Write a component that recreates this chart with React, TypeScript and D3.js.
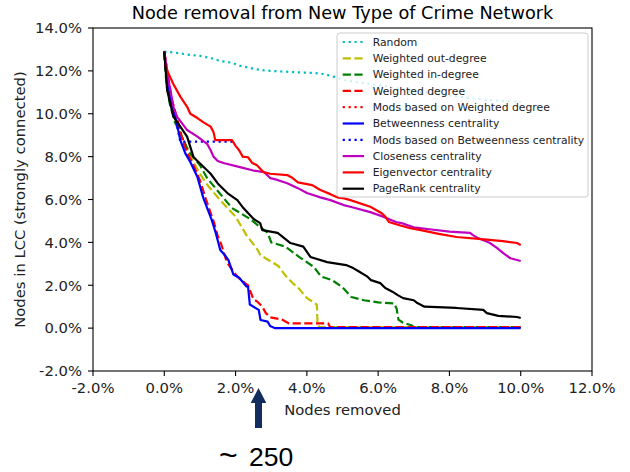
import React from "react";
import * as d3 from "d3";

// ---------- data (x = % nodes removed, y = % nodes in LCC) ----------
const xTicks = [-2, 0, 2, 4, 6, 8, 10, 12];
const yTicks = [-2, 0, 2, 4, 6, 8, 10, 12, 14];

const randomPts: [number, number][] = [[0,12.9],[0.3,12.85],[0.7,12.75],[1.0,12.7],[1.3,12.6],[1.6,12.45],[1.9,12.38],[2.1,12.25],[2.5,12.1],[2.8,12.02],[3.3,11.97],[3.8,11.93],[4.2,11.9],[4.5,11.85],[4.8,11.7],[5.1,11.55],[5.5,11.45],[6.0,11.35],[6.5,11.2],[7.0,11.05],[7.5,10.95],[8.0,10.85],[8.5,10.75],[9.0,10.65],[9.5,10.6],[10.0,10.55]];
const outDegreePts: [number, number][] = [[0,12.9],[0.05,11.8],[0.15,10.8],[0.3,9.8],[0.45,9.1],[0.6,8.5],[0.8,7.8],[1.0,7.2],[1.2,6.7],[1.5,6.1],[1.8,5.55],[2.0,5.2],[2.3,4.35],[2.6,3.7],[2.7,3.4],[3.0,3.1],[3.2,2.9],[3.4,2.45],[3.6,2.1],[3.75,1.9],[4.0,1.4],[4.1,1.3],[4.28,1.1],[4.3,0.2],[4.35,0.05],[10,0.05]];
const inDegreePts: [number, number][] = [[0,12.9],[0.05,11.6],[0.15,10.5],[0.3,9.6],[0.5,8.9],[0.7,8.2],[1.0,7.6],[1.2,7.0],[1.5,6.4],[1.9,5.6],[2.4,5.1],[2.7,4.7],[2.9,4.45],[3.0,4.0],[3.4,3.8],[3.8,3.3],[4.2,2.85],[4.4,2.4],[4.7,2.25],[5.0,1.9],[5.25,1.45],[5.6,1.3],[6.0,1.2],[6.45,1.15],[6.52,0.9],[6.57,0.4],[6.7,0.25],[6.95,0.12],[7.0,0.05],[10,0.05]];
const degreePts: [number, number][] = [[0,12.9],[0.1,11.8],[0.22,10.6],[0.37,9.7],[0.52,8.7],[0.67,8.1],[0.82,7.6],[1.0,6.9],[1.17,6.0],[1.4,4.9],[1.5,4.3],[1.6,3.9],[1.75,3.1],[1.85,2.85],[2.05,2.4],[2.3,2.05],[2.35,2.0],[2.5,1.35],[2.6,1.25],[2.75,1.0],[2.85,0.7],[2.97,0.5],[3.3,0.4],[3.5,0.22],[4.6,0.22],[4.65,0.05],[10,0.05]];
const modsDegreePts: [number, number][] = [[0,12.9],[0.1,11.8],[0.22,10.6],[0.37,9.7],[0.5,8.9],[0.6,8.5]];
const betweennessPts: [number, number][] = [[0,12.9],[0.05,12.0],[0.17,10.8],[0.31,9.85],[0.45,8.77],[0.59,8.15],[0.73,7.75],[0.93,7.05],[1.09,6.1],[1.34,5.0],[1.45,4.4],[1.57,3.64],[1.7,3.4],[1.8,3.17],[1.94,2.5],[2.1,2.35],[2.3,1.95],[2.35,1.93],[2.4,1.1],[2.6,0.9],[2.65,0.85],[2.7,0.38],[2.9,0.3],[2.97,0.1],[3.1,0.0],[10,0.0]];
const modsBetweennessPts: [number, number][] = [[0,12.9],[0.05,12.0],[0.17,10.8],[0.31,9.85],[0.45,8.7],[2.0,8.7]];
const closenessPts: [number, number][] = [[0,12.9],[0.08,11.9],[0.17,11.1],[0.26,10.3],[0.36,9.85],[0.5,9.55],[0.64,9.24],[0.93,8.93],[1.2,8.6],[1.3,8.3],[1.38,8.0],[1.5,7.8],[1.66,7.7],[2.15,7.5],[2.5,7.35],[2.8,7.28],[2.97,7.0],[3.1,6.95],[3.45,6.76],[3.75,6.53],[4.0,6.3],[4.38,6.1],[4.66,5.97],[5.03,5.74],[5.22,5.66],[5.78,5.41],[6.14,5.2],[6.5,4.95],[6.65,4.9],[7.0,4.7],[7.5,4.6],[8.0,4.5],[8.58,4.44],[8.66,4.34],[8.8,4.2],[9.14,3.97],[9.34,3.73],[9.51,3.5],[9.71,3.26],[10,3.13]];
const eigenvectorPts: [number, number][] = [[0,12.9],[0.03,12.2],[0.25,11.4],[0.45,10.8],[0.65,10.3],[0.73,10.0],[0.93,9.8],[1.1,9.6],[1.3,9.4],[1.38,9.15],[1.43,8.77],[1.9,8.77],[2.0,8.5],[2.1,8.3],[2.2,8.0],[2.35,7.97],[2.47,7.7],[2.6,7.6],[2.78,7.28],[2.97,7.2],[3.45,7.14],[3.6,7.0],[3.75,6.8],[4.15,6.67],[4.38,6.44],[4.66,6.25],[4.85,6.1],[5.05,6.05],[5.22,5.97],[5.78,5.66],[6.1,5.36],[6.2,5.2],[6.3,4.95],[6.6,4.8],[6.9,4.66],[7.2,4.57],[7.7,4.4],[8.2,4.25],[8.9,4.15],[9.5,4.06],[9.9,3.97],[10,3.87]];
const pageRankPts: [number, number][] = [[0,12.9],[0.08,11.1],[0.26,9.85],[0.45,9.4],[0.64,8.93],[0.82,7.98],[0.93,7.8],[1.3,7.2],[1.5,6.75],[1.77,6.3],[2.05,5.97],[2.22,5.6],[2.5,5.1],[2.69,4.9],[2.75,4.57],[3.18,4.44],[3.54,3.97],[3.9,3.8],[4.1,3.32],[4.57,3.08],[5.1,2.94],[5.3,2.8],[5.45,2.65],[5.7,2.4],[5.8,2.24],[6.06,2.1],[6.2,1.87],[6.4,1.7],[6.55,1.54],[6.7,1.4],[7.0,1.3],[7.1,1.17],[7.3,1.0],[8.2,0.94],[8.95,0.85],[9.05,0.7],[9.37,0.57],[9.9,0.52],[10,0.47]];

const seriesNames = [
  "Random",
  "Weighted out-degree",
  "Weighted in-degree",
  "Weighted degree",
  "Mods based on Weighted degree",
  "Betweenness centrality",
  "Mods based on Betweenness centrality",
  "Closeness centrality",
  "Eigenvector centrality",
  "PageRank centrality",
];
const seriesData = [randomPts, outDegreePts, inDegreePts, degreePts, modsDegreePts, betweennessPts, modsBetweennessPts, closenessPts, eigenvectorPts, pageRankPts];
const seriesColors = ["#00bfbf", "#bfbf00", "#008000", "#ff0000", "#ff0000", "#0000ff", "#0000ff", "#bf00bf", "#ff0000", "#000000"];
const seriesStyles = ["dotted", "dashed", "dashed", "dashed", "dotted", "solid", "dotted", "solid", "solid", "solid"];

// ---------- layout ----------
const W = 630, H = 472;
const L = 93, R = 592, T = 28, B = 371;
const FONT = "'DejaVu Sans', sans-serif";

const dashFor = (s: string) => (s === "dashed" ? "8.2 3.5" : s === "dotted" ? "2.2 3.7" : undefined);

export default function App() {
  const x = d3.scaleLinear().domain([-2, 12]).range([L, R]);
  const y = d3.scaleLinear().domain([-2, 14]).range([B, T]);
  const line = d3.line<[number, number]>().x(d => x(d[0])).y(d => y(d[1]));
  const fmt = (v: number) => v.toFixed(1) + "%";

  const legX = 337, legY = 33, legW = 251, legH = 164;

  return (
    <svg width={W} height={H} style={{ position: "absolute", left: 0, top: 0, background: "#fff" }} fontFamily={FONT}>
      <rect x={0} y={0} width={W} height={H} fill="#fff" />
      <text x={(L + R) / 2} y={18.5} textAnchor="middle" fontSize={17.7} fill="#000">Node removal from New Type of Crime Network</text>

      <defs>
        <clipPath id="clip"><rect x={L} y={T} width={R - L} height={B - T} /></clipPath>
      </defs>
      <g clipPath="url(#clip)">
        {seriesData.map((d, i) => (
          <path key={i} d={line(d) || ""} fill="none" stroke={seriesColors[i]} strokeWidth={2.2}
            strokeDasharray={dashFor(seriesStyles[i])} strokeLinejoin="round" />
        ))}
      </g>

      {/* frame */}
      <rect x={L} y={T} width={R - L} height={B - T} fill="none" stroke="#000" strokeWidth={1.1} />

      {/* x ticks */}
      {xTicks.map(t => (
        <g key={"x" + t}>
          <line x1={x(t)} x2={x(t)} y1={B} y2={B + 5} stroke="#000" strokeWidth={1.1} />
          <text x={x(t)} y={B + 21.5} textAnchor="middle" fontSize={14.8} fill="#222">{fmt(t)}</text>
        </g>
      ))}
      {/* y ticks */}
      {yTicks.map(t => (
        <g key={"y" + t}>
          <line x1={L - 5} x2={L} y1={y(t)} y2={y(t)} stroke="#000" strokeWidth={1.1} />
          <text x={L - 11} y={y(t)} dy="0.36em" textAnchor="end" fontSize={14.8} fill="#222">{fmt(t)}</text>
        </g>
      ))}
      <text x={(L + R) / 2} y={415} textAnchor="middle" fontSize={14.8} fill="#222">Nodes removed</text>
      <text transform={`translate(25,${(T + B) / 2}) rotate(-90)`} textAnchor="middle" fontSize={14.8} fill="#222">Nodes in LCC (strongly connected)</text>

      {/* legend */}
      <rect x={legX} y={legY} width={legW} height={legH} rx={3} fill="#fff" fillOpacity={0.8} stroke="#cccccc" strokeWidth={1} />
      {seriesNames.map((n, i) => {
        const ly = 42 + i * 16.3;
        return (
          <g key={n}>
            <line x1={342.7} x2={364} y1={ly} y2={ly} stroke={seriesColors[i]} strokeWidth={2.2} strokeDasharray={dashFor(seriesStyles[i])} />
            <text x={372.7} y={ly} dy="0.35em" fontSize={10.8} fill="#222">{n}</text>
          </g>
        );
      })}

      {/* annotation arrow */}
      <path d="M255,428 L262,428 L262,403 L266.3,403 L258.5,388 L250.7,403 L255,403 Z" fill="#132c5e" />
      <text y={466} fill="#000" fontFamily="'Liberation Sans', Arial, sans-serif">
        <tspan x={219} fontSize={32}>~ </tspan>
        <tspan x={249} fontSize={26.5}>250</tspan>
      </text>
    </svg>
  );
}
